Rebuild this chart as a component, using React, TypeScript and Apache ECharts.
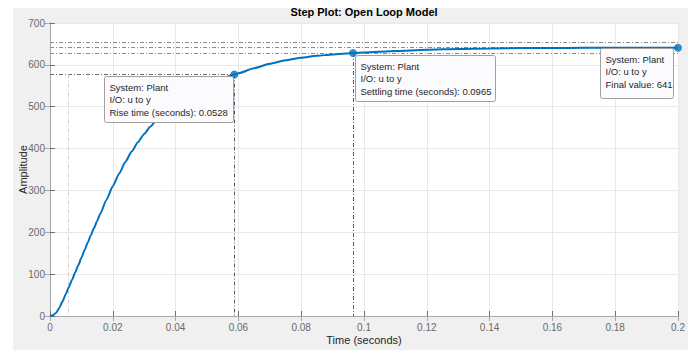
import React, { useEffect, useRef } from "react";
import * as echarts from "echarts";

// ---- data ----
const timeS = [0, 0.001, 0.002, 0.003, 0.004, 0.005, 0.006, 0.007, 0.008, 0.009, 0.010, 0.011, 0.012, 0.013, 0.014, 0.015, 0.016, 0.018, 0.020, 0.022, 0.024, 0.026, 0.028, 0.030, 0.032, 0.034, 0.036, 0.038, 0.040, 0.042, 0.044, 0.046, 0.048, 0.050, 0.052, 0.054, 0.056, 0.0587, 0.060, 0.065, 0.070, 0.075, 0.080, 0.085, 0.090, 0.0965, 0.100, 0.110, 0.120, 0.130, 0.140, 0.150, 0.160, 0.170, 0.180, 0.190, 0.200];
const amplitude = [0, 2, 8, 20, 35, 52, 69, 86, 104, 121, 139, 157, 175, 193, 210, 227, 244, 278, 310, 340, 368, 393, 415, 435, 453, 469, 483, 496, 508, 519, 529, 538, 546, 553, 559.5, 565.5, 571, 576.9, 580, 592, 602.5, 611, 617, 621.5, 625, 628.2, 629.6, 633, 636, 638, 639.2, 640, 640.4, 640.7, 640.9, 641, 641];

const xTicks = [0, 0.02, 0.04, 0.06, 0.08, 0.1, 0.12, 0.14, 0.16, 0.18, 0.2];
const yTicks = [0, 100, 200, 300, 400, 500, 600, 700];

const finalValue = 641;
const riseLevel = 576.9; // 90 %
const settleLow = 628.2; // 98 %
const settleHigh = 653.8; // 102 %
const t10 = 0.0059;
const t90 = 0.0587;
const tSettle = 0.0965;
const tEnd = 0.2;

const riseText = ["System: Plant", "I/O: u to y", "Rise time (seconds): 0.0528"];
const settleText = ["System: Plant", "I/O: u to y", "Settling time (seconds): 0.0965"];
const finalText = ["System: Plant", "I/O: u to y", "Final value: 641"];

const FONT = "'Liberation Sans', Arial, Helvetica, sans-serif";
const DASHDOT = [4, 2, 1, 2];

export default function App() {
  const ref = useRef<HTMLDivElement>(null);

  useEffect(() => {
    if (!ref.current) return;
    const chart = echarts.init(ref.current, undefined, { renderer: "svg" });

    const refLine = (a: number[], b: number[], color: string) => [
      { coord: a, lineStyle: { color, width: 1, type: DASHDOT } },
      { coord: b },
    ];

    const axisLabelStyle = { color: "#6a6a6a", fontSize: 10, fontFamily: FONT };

    chart.setOption({
      animation: false,
      grid: {
        left: 50,
        right: 18,
        top: 23,
        bottom: 31,
        show: true,
        backgroundColor: "#ffffff",
        borderWidth: 0,
      },
      xAxis: [
        {
          type: "value",
          min: xTicks[0],
          max: xTicks[xTicks.length - 1],
          interval: 0.02,
          name: "Time (seconds)",
          nameLocation: "middle",
          nameGap: 18,
          nameMoveOverlap: false,
          nameTextStyle: { color: "#262626", fontSize: 11, fontFamily: FONT },
          axisLine: { show: true, lineStyle: { color: "#6e6e6e", width: 1 } },
          axisTick: { show: true, inside: true, length: 5, lineStyle: { color: "#6e6e6e" } },
          axisLabel: { ...axisLabelStyle, margin: 6 },
          splitLine: { show: true, lineStyle: { color: "#e8e8e8", width: 1 } },
        },
        {
          type: "value",
          position: "top",
          min: xTicks[0],
          max: xTicks[xTicks.length - 1],
          interval: 0.02,
          axisLine: { show: true, lineStyle: { color: "#a8a8a8", width: 1 } },
          axisTick: { show: true, inside: true, length: 5, lineStyle: { color: "#a8a8a8" } },
          axisLabel: { show: false },
          splitLine: { show: false },
        },
      ],
      yAxis: [
        {
          type: "value",
          min: yTicks[0],
          max: yTicks[yTicks.length - 1],
          interval: 100,
          name: "Amplitude",
          nameLocation: "middle",
          nameGap: 22,
          nameMoveOverlap: false,
          nameTextStyle: { color: "#262626", fontSize: 11, fontFamily: FONT },
          axisLine: { show: true, lineStyle: { color: "#6e6e6e", width: 1 } },
          axisTick: { show: true, inside: true, length: 5, lineStyle: { color: "#6e6e6e" } },
          axisLabel: { ...axisLabelStyle, margin: 5 },
          splitLine: { show: true, lineStyle: { color: "#e8e8e8", width: 1 } },
        },
        {
          type: "value",
          position: "right",
          min: yTicks[0],
          max: yTicks[yTicks.length - 1],
          interval: 100,
          axisLine: { show: true, lineStyle: { color: "#a8a8a8", width: 1 } },
          axisTick: { show: true, inside: true, length: 5, lineStyle: { color: "#a8a8a8" } },
          axisLabel: { show: false },
          splitLine: { show: false },
        },
      ],
      series: [
        {
          type: "line",
          name: "refs",
          data: [],
          silent: true,
          markLine: {
            silent: true,
            symbol: "none",
            label: { show: false },
            z: 1,
            data: [
              refLine([0, settleHigh], [tEnd, settleHigh], "#8a8a8a"),
              refLine([0, finalValue], [tEnd, finalValue], "#8a8a8a"),
              refLine([0, settleLow], [tEnd, settleLow], "#8a8a8a"),
              refLine([0, riseLevel], [t90, riseLevel], "#6a6a6a"),
              refLine([t10, riseLevel], [t10, 0], "#cfcfcf"),
              refLine([t90, riseLevel], [t90, 0], "#5a5a5a"),
              refLine([tSettle, settleLow], [tSettle, 0], "#5a5a5a"),
            ],
          },
        },
        {
          type: "line",
          name: "Plant",
          data: timeS.map((t, i) => [t, amplitude[i]]),
          showSymbol: false,
          smooth: 0.2,
          smoothMonotone: "x",
          lineStyle: { color: "#0072BD", width: 2 },
          itemStyle: { color: "#0072BD" },
          z: 3,
        },
        {
          type: "scatter",
          name: "characteristics",
          data: [
            [t90, riseLevel],
            [tSettle, settleLow],
            [tEnd, finalValue],
          ],
          symbolSize: 8,
          itemStyle: { color: "#0072BD" },
          z: 4,
        },
      ],
    });

    const px = (p: number[]) => chart.convertToPixel({ gridIndex: 0 }, p) as number[];
    const pRise = px([t90, riseLevel]);
    const pSettle = px([tSettle, settleLow]);
    const pFinal = px([tEnd, finalValue]);

    const box = (x: number, y: number, w: number, h: number, lines: string[]) => ({
      type: "group",
      x,
      y,
      z: 100,
      children: [
        {
          type: "rect",
          shape: { x: 0, y: 0, width: w, height: h, r: 2 },
          style: { fill: "#fbfbfe", stroke: "#a0a0a0", lineWidth: 1 },
          z: 100,
        },
        {
          type: "text",
          x: 5,
          y: 5,
          z: 101,
          style: {
            text: lines.join("\n"),
            fill: "#262626",
            font: `9.5px ${FONT}`,
            lineHeight: 12.3,
          },
        },
      ],
    });

    chart.setOption({
      graphic: [
        {
          type: "text",
          x: 364,
          y: 12,
          z: 100,
          style: {
            text: "Step Plot: Open Loop Model",
            fill: "#000",
            font: `bold 11px ${FONT}`,
            align: "center",
            verticalAlign: "middle",
          },
        },
        box(Math.round(pRise[0]) - 129.5, Math.round(pRise[1]) + 1.5, 129, 46, riseText),
        box(Math.round(pSettle[0]) + 2.5, Math.round(pSettle[1]) + 2.5, 140, 46, settleText),
        box(Math.round(pFinal[0]) - 77.5, Math.round(pFinal[1]) + 0.5, 73, 50, finalText),
      ],
    });

    return () => chart.dispose();
  }, []);

  return (
    <div
      style={{
        position: "absolute",
        left: 0,
        top: 0,
        width: 696,
        height: 350,
        background: "#ffffff",
        overflow: "hidden",
      }}
    >
      <div
        style={{
          position: "absolute",
          left: 13,
          top: 8,
          width: 675,
          height: 342,
          background: "#f0f0f0",
        }}
      />
      <div ref={ref} style={{ position: "absolute", left: 0, top: 0, width: 696, height: 350 }} />
    </div>
  );
}
